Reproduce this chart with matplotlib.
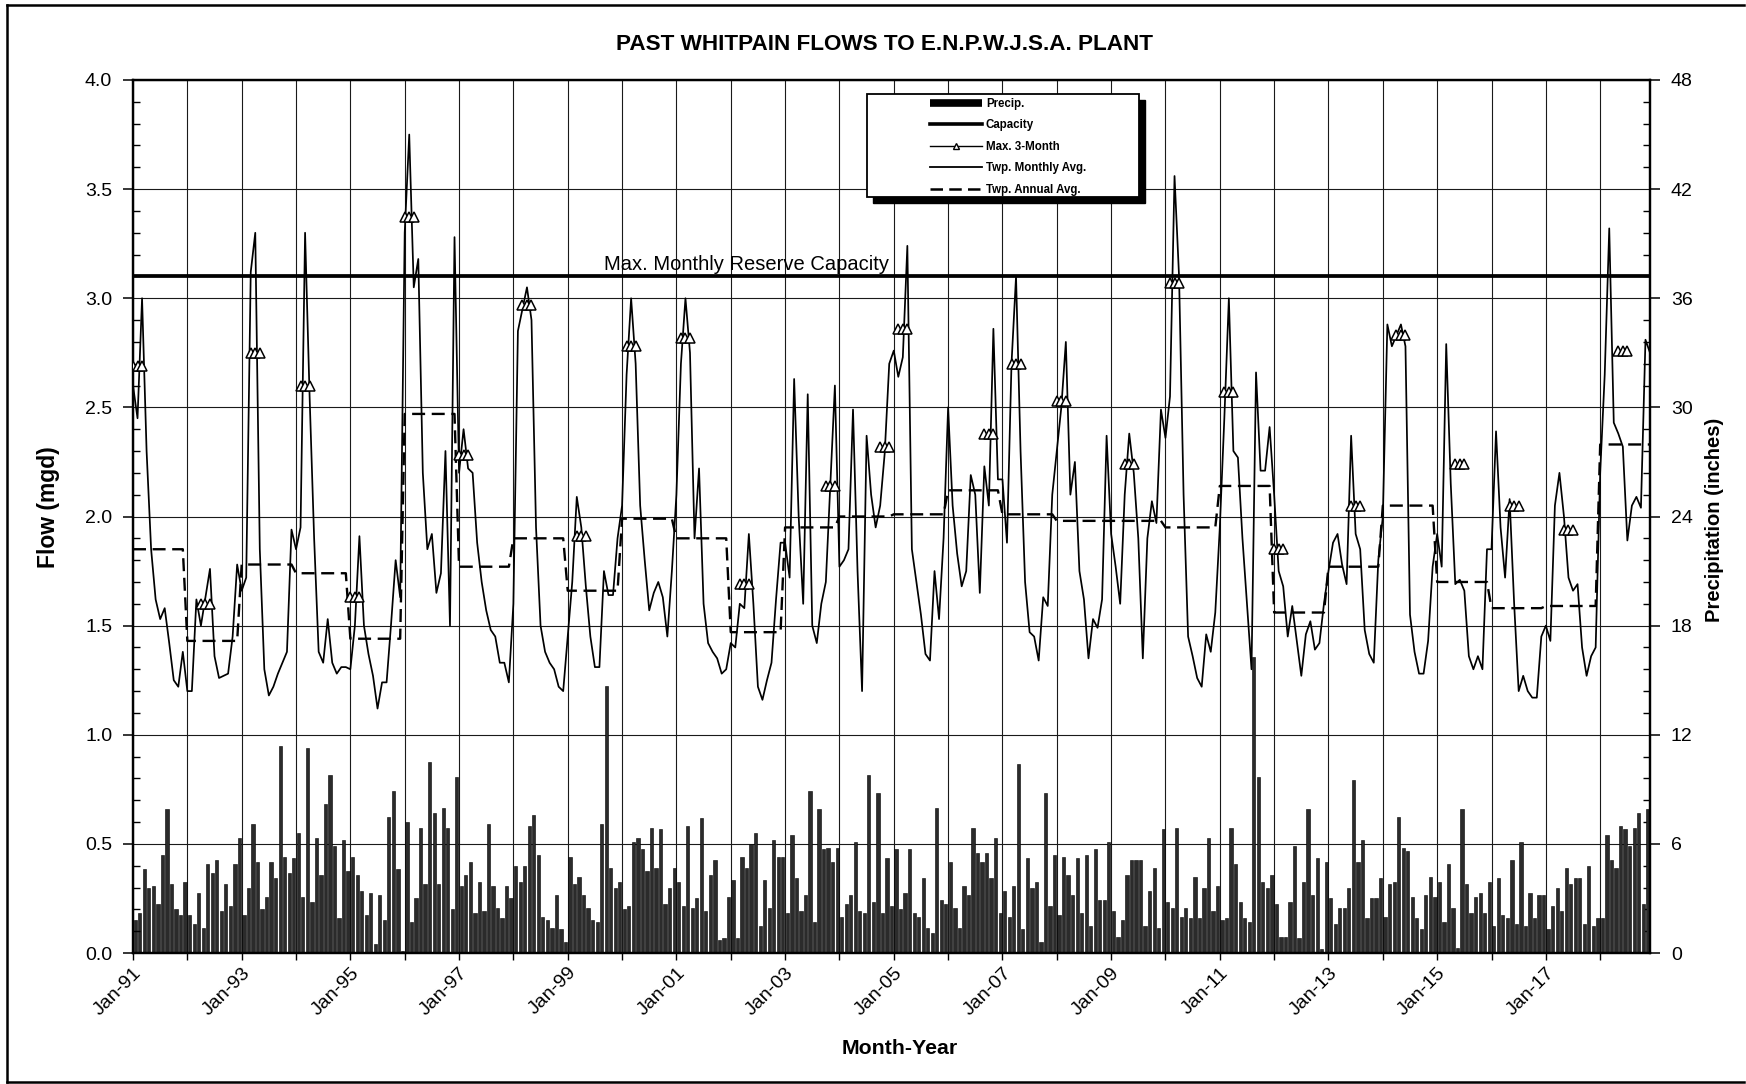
import numpy as np
import matplotlib
matplotlib.use("Agg")
import matplotlib.pyplot as plt
from matplotlib.lines import Line2D
from matplotlib.patches import Rectangle
from matplotlib.ticker import MultipleLocator, FixedLocator, FixedFormatter, FormatStrFormatter

plt.rcParams['font.family'] = ['Liberation Sans', 'DejaVu Sans']

# ---- data -------------------------------------------------------------
first_year = 1991
n_years = 28

# Township monthly average flow (mgd), Jan-1991 .. Dec-2018
monthly_flow = [
    2.60, 2.45, 3.00, 2.30, 1.85, 1.62, 1.53, 1.58, 1.42, 1.25, 1.22, 1.38,   # 1991
    1.20, 1.20, 1.62, 1.50, 1.63, 1.76, 1.36, 1.26, 1.27, 1.28, 1.45, 1.78,   # 1992
    1.66, 1.72, 3.12, 3.30, 1.85, 1.30, 1.18, 1.22, 1.28, 1.33, 1.38, 1.94,   # 1993
    1.85, 1.95, 3.30, 2.55, 1.90, 1.38, 1.33, 1.53, 1.33, 1.28, 1.31, 1.31,   # 1994
    1.30, 1.50, 1.91, 1.50, 1.37, 1.27, 1.12, 1.24, 1.24, 1.51, 1.80, 1.63,   # 1995
    3.30, 3.75, 3.05, 3.18, 2.20, 1.85, 1.92, 1.65, 1.74, 2.30, 1.50, 3.28,   # 1996
    2.20, 2.40, 2.22, 2.20, 1.88, 1.70, 1.57, 1.48, 1.45, 1.33, 1.33, 1.24,   # 1997
    1.60, 2.85, 2.95, 3.05, 2.90, 1.95, 1.50, 1.38, 1.33, 1.30, 1.22, 1.20,   # 1998
    1.45, 1.70, 2.09, 1.95, 1.68, 1.45, 1.31, 1.31, 1.75, 1.64, 1.64, 1.90,   # 1999
    2.05, 2.65, 3.00, 2.70, 2.05, 1.80, 1.57, 1.65, 1.70, 1.63, 1.45, 1.75,   # 2000
    2.10, 2.70, 3.00, 2.75, 1.90, 2.22, 1.60, 1.42, 1.38, 1.35, 1.28, 1.30,   # 2001
    1.42, 1.40, 1.60, 1.58, 1.92, 1.60, 1.22, 1.16, 1.25, 1.33, 1.62, 1.88,   # 2002
    1.88, 1.72, 2.63, 2.00, 1.60, 2.56, 1.50, 1.42, 1.60, 1.70, 2.15, 2.60,   # 2003
    1.77, 1.80, 1.85, 2.49, 1.75, 1.20, 2.37, 2.10, 1.95, 2.05, 2.29, 2.70,   # 2004
    2.76, 2.64, 2.73, 3.24, 1.85, 1.70, 1.55, 1.37, 1.34, 1.75, 1.53, 1.90,   # 2005
    2.50, 2.05, 1.83, 1.68, 1.75, 2.19, 2.10, 1.65, 2.23, 2.05, 2.86, 2.17,   # 2006
    2.17, 1.88, 2.70, 3.10, 2.30, 1.70, 1.47, 1.45, 1.34, 1.63, 1.59, 2.10,   # 2007
    2.30, 2.50, 2.80, 2.10, 2.25, 1.75, 1.62, 1.35, 1.53, 1.49, 1.62, 2.37,   # 2008
    1.92, 1.77, 1.60, 2.10, 2.38, 2.20, 1.90, 1.35, 1.90, 2.07, 1.97, 2.49,   # 2009
    2.36, 2.55, 3.56, 3.10, 2.10, 1.45, 1.36, 1.26, 1.22, 1.46, 1.38, 1.56,   # 2010
    1.95, 2.45, 3.00, 2.30, 2.27, 1.90, 1.60, 1.30, 2.66, 2.21, 2.21, 2.41,   # 2011
    2.10, 1.75, 1.68, 1.45, 1.59, 1.43, 1.27, 1.46, 1.52, 1.39, 1.42, 1.60,   # 2012
    1.75, 1.88, 1.92, 1.78, 1.69, 2.37, 1.92, 1.85, 1.48, 1.37, 1.33, 1.80,   # 2013
    2.00, 2.88, 2.78, 2.83, 2.88, 2.78, 1.55, 1.38, 1.28, 1.28, 1.43, 1.77,   # 2014
    1.92, 1.77, 2.79, 2.15, 1.69, 1.71, 1.66, 1.36, 1.30, 1.36, 1.30, 1.85,   # 2015
    1.85, 2.39, 1.95, 1.72, 2.08, 1.60, 1.20, 1.27, 1.20, 1.17, 1.17, 1.45,   # 2016
    1.50, 1.43, 2.05, 2.20, 2.00, 1.72, 1.66, 1.69, 1.40, 1.27, 1.36, 1.40,   # 2017
    2.20, 2.65, 3.32, 2.43, 2.38, 2.32, 1.89, 2.05, 2.09, 2.04, 2.81, 2.75,   # 2018
]

# Monthly precipitation (inches)
precip = [
    1.8, 2.2, 4.6, 3.6, 3.7, 2.7, 5.4, 7.9, 3.8, 2.4, 2.1, 3.9,
    2.1, 1.6, 3.3, 1.4, 4.9, 4.4, 5.1, 2.3, 3.8, 2.6, 4.9, 6.3,
    2.1, 3.6, 7.1, 5.0, 2.4, 3.1, 5.0, 4.1, 11.4, 5.3, 4.4, 5.2,
    6.6, 3.1, 11.25, 2.8, 6.3, 4.3, 8.2, 9.8, 5.9, 1.9, 6.2, 4.5,
    5.3, 4.3, 3.4, 2.1, 3.3, 0.5, 3.2, 1.8, 7.5, 8.9, 4.6, 0.1,
    7.2, 1.7, 3.0, 6.9, 3.8, 10.5, 7.7, 3.8, 8.0, 6.9, 2.4, 9.7,
    3.7, 4.3, 5.0, 2.2, 3.9, 2.3, 7.1, 3.7, 2.5, 1.9, 3.7, 3.0,
    4.8, 3.9, 4.8, 7.0, 7.6, 5.4, 2.0, 1.8, 1.4, 3.2, 1.3, 0.6,
    5.3, 3.8, 4.2, 3.2, 2.5, 1.8, 1.7, 7.1, 14.7, 4.7, 3.6, 3.9,
    2.4, 2.6, 6.1, 6.3, 5.7, 4.5, 6.9, 4.7, 6.8, 2.7, 3.6, 4.7,
    3.9, 2.6, 7.0, 2.5, 3.0, 7.4, 2.3, 4.3, 5.1, 0.7, 0.8, 3.1,
    4.0, 0.8, 5.3, 4.7, 6.0, 6.6, 1.5, 4.0, 2.5, 6.2, 5.3, 5.3,
    2.2, 6.5, 4.1, 2.3, 3.2, 8.9, 1.7, 7.9, 5.7, 5.8, 5.0, 5.8,
    2.0, 2.7, 3.2, 6.1, 2.3, 2.2, 9.8, 2.8, 8.8, 2.2, 5.2, 2.6,
    5.7, 2.4, 3.3, 5.7, 2.2, 2.0, 4.1, 1.4, 1.1, 8.0, 2.9, 2.7,
    5.0, 2.5, 1.4, 3.7, 3.2, 6.9, 5.5, 5.0, 5.5, 4.1, 6.3, 2.2,
    3.4, 2.0, 3.7, 10.4, 1.3, 5.2, 3.6, 3.9, 0.6, 8.8, 2.6, 5.4,
    2.1, 5.3, 4.3, 3.2, 5.2, 2.2, 5.4, 1.5, 5.7, 2.9, 2.9, 6.1,
    2.3, 0.9, 1.8, 4.3, 5.1, 5.1, 5.1, 1.5, 3.4, 4.7, 1.4, 6.8,
    2.8, 2.5, 6.9, 2.0, 2.5, 1.9, 4.2, 1.9, 3.6, 6.3, 2.3, 3.7,
    1.8, 1.9, 6.9, 4.9, 2.8, 1.9, 1.7, 16.3, 9.7, 3.9, 3.6, 4.3,
    2.7, 0.9, 0.9, 2.8, 5.9, 0.8, 3.9, 7.9, 3.2, 5.2, 0.2, 5.0,
    3.0, 1.6, 2.5, 2.5, 3.6, 9.5, 5.0, 6.2, 1.9, 3.0, 3.0, 4.1,
    2.0, 3.8, 3.9, 7.5, 5.8, 5.6, 3.1, 1.9, 1.3, 3.2, 4.2, 3.1,
    3.9, 1.7, 4.9, 2.5, 0.3, 7.9, 3.8, 2.2, 3.1, 3.3, 2.2, 3.9,
    1.5, 4.1, 2.1, 1.9, 5.1, 1.6, 6.1, 1.5, 3.3, 1.9, 3.2, 3.2,
    1.3, 2.6, 3.6, 2.3, 4.7, 3.8, 4.1, 4.1, 1.6, 4.8, 1.5, 1.9,
    1.9, 6.5, 5.1, 4.7, 7.0, 6.8, 5.9, 6.9, 7.7, 2.7, 7.9, 5.6,
]

# Township annual average flow (mgd), one value per year 1991..2018
annual_avg = [1.85, 1.43, 1.78, 1.74, 1.44, 2.47, 1.77, 1.90, 1.66, 1.99,
              1.90, 1.47, 1.95, 2.00, 2.01, 2.12, 2.01, 1.98, 1.98, 1.95,
              2.14, 1.56, 1.77, 2.05, 1.70, 1.58, 1.59, 2.33]

# Maximum 3-month average per year: first month index of the window and value
max3_start = [0, 15, 26, 37, 48, 60, 72, 86, 98, 109, 121, 134, 153, 165,
              169, 188, 194, 204, 219, 229, 241, 252, 269, 279, 292, 304, 316, 328]
max3_value = [2.69, 1.60, 2.75, 2.60, 1.63, 3.37, 2.28, 2.97, 1.91, 2.78,
              2.82, 1.69, 2.14, 2.32, 2.86, 2.38, 2.70, 2.53, 2.24, 3.07,
              2.57, 1.85, 2.05, 2.83, 2.24, 2.05, 1.94, 2.76]

capacity = 3.1   # max. monthly reserve capacity (mgd)

year_labels = [f"Jan-{(first_year + i) % 100:02d}" for i in range(n_years)]

# ---- figure -----------------------------------------------------------
W, H = 1746, 1084
fig = plt.figure(figsize=(W / 100, H / 100), dpi=100)

L, R, T, B = 133, 1650, 80, 953
ax = fig.add_axes([L / W, 1 - B / H, (R - L) / W, (B - T) / H])   # precipitation (right scale)
axf = ax.twinx()                                                    # flow (left scale)

ax.yaxis.tick_right()
ax.yaxis.set_label_position('right')
axf.yaxis.tick_left()
axf.yaxis.set_label_position('left')

months = np.arange(len(monthly_flow))
n_months = len(monthly_flow)

# precipitation bars
ax.bar(np.arange(len(precip)) + 0.5, precip, width=0.72, color='#2b2b2b',
       edgecolor='black', linewidth=0.4, zorder=2)
ax.set_ylim(0, 48)
ax.set_xlim(0, n_months - 1)

# grid (shared with the left scale: 6 in. == 0.5 mgd)
ax.set_axisbelow(True)
ax.grid(True, which='major', color='#1a1a1a', linewidth=0.8)

# flow lines
axf.plot(months, monthly_flow, color='black', linewidth=1.25, zorder=3)
annual_monthly = np.repeat(annual_avg, 12)[:n_months]
axf.plot(months, annual_monthly, color='black', linewidth=1.7,
         dashes=(5.5, 2.8), zorder=3)
axf.axhline(capacity, color='black', linewidth=2.7, zorder=3)
for s, v in zip(max3_start, max3_value):
    axf.plot([s, s + 1, s + 2], [v, v, v], color='black', linewidth=1.0,
             marker='^', markersize=7.5, markerfacecolor='white',
             markeredgecolor='black', markeredgewidth=1.1, zorder=4)
axf.set_ylim(0, 4.0)

axf.text(104, capacity + 0.012, "Max. Monthly Reserve Capacity",
         fontsize=14.5, ha='left', va='bottom', zorder=5)

# ticks
ax.xaxis.set_major_locator(FixedLocator(np.arange(0, n_months, 12)))
ax.xaxis.set_major_formatter(FixedFormatter(
    [lab if i % 2 == 0 else '' for i, lab in enumerate(year_labels)]))
ax.tick_params(axis='x', which='major', direction='out', length=5, width=1,
               labelsize=14, pad=3)
for lbl in ax.get_xticklabels():
    lbl.set_rotation(45)
    lbl.set_ha('right')
    lbl.set_rotation_mode('anchor')

ax.yaxis.set_major_locator(MultipleLocator(6))
ax.yaxis.set_minor_locator(MultipleLocator(1.2))
ax.tick_params(axis='y', which='major', direction='out', length=7, width=1.1,
               labelsize=14, pad=8)
ax.tick_params(axis='y', which='minor', direction='in', length=5, width=1)

axf.yaxis.set_major_locator(MultipleLocator(0.5))
axf.yaxis.set_minor_locator(MultipleLocator(0.1))
axf.yaxis.set_major_formatter(FormatStrFormatter('%.1f'))
axf.tick_params(axis='y', which='major', direction='out', length=7, width=1.1,
                labelsize=14, pad=8)
axf.tick_params(axis='y', which='minor', direction='in', length=5, width=1)

for a in (ax, axf):
    for sp in a.spines.values():
        sp.set_linewidth(1.6)
        sp.set_color('black')

# titles and axis labels
fig.text(884 / W, 1 - 45 / H, "PAST WHITPAIN FLOWS TO E.N.P.W.J.S.A. PLANT",
         fontsize=16.2, fontweight='bold', ha='center', va='center')
fig.text(900 / W, 1 - 1049 / H, "Month-Year", fontsize=15.3,
         fontweight='bold', ha='center', va='center')
fig.text(49 / W, 1 - 507 / H, "Flow (mgd)", fontsize=16.5, fontweight='bold',
         ha='center', va='center', rotation=90)
fig.text(1715 / W, 1 - 520 / H, "Precipitation (inches)", fontsize=14.5,
         fontweight='bold', ha='center', va='center', rotation=90)

# legend box with drop shadow
bx0, by0, bx1, by1 = 867, 94, 1139, 197
sh = 6
fig.patches.append(Rectangle(((bx0 + sh) / W, 1 - (by1 + sh) / H),
                             (bx1 - bx0) / W, (by1 - by0) / H,
                             transform=fig.transFigure, facecolor='black',
                             edgecolor='black', zorder=3))
fig.patches.append(Rectangle((bx0 / W, 1 - by1 / H), (bx1 - bx0) / W,
                             (by1 - by0) / H, transform=fig.transFigure,
                             facecolor='white', edgecolor='black',
                             linewidth=1.3, zorder=3.1))

handles = [
    Line2D([], [], color='black', linewidth=5.5, solid_capstyle='butt'),
    Line2D([], [], color='black', linewidth=2.6),
    Line2D([], [], color='black', linewidth=1.0, marker='^', markersize=5,
           markerfacecolor='white', markeredgecolor='black'),
    Line2D([], [], color='black', linewidth=1.3),
    Line2D([], [], color='black', linewidth=1.8, dashes=(5, 2.5)),
]
labels = ["Precip.", "Capacity", "Max. 3-Month", "Twp. Monthly Avg.",
          "Twp. Annual Avg."]
leg = fig.legend(handles, labels, loc='upper left',
                 bbox_to_anchor=(930 / W, 1 - 98 / H),
                 frameon=False, prop={'weight': 'bold', 'size': 8.3},
                 handlelength=4.5, handletextpad=0.35, labelspacing=0.82,
                 borderpad=0, borderaxespad=0, numpoints=1)
leg.set_zorder(5)

# outer border (left, top and bottom edges)
for xs, ys in (([7, 7], [5, 1082]), ([7, 1744], [5, 5]), ([7, 1744], [1082, 1082])):
    fig.lines.append(Line2D([x / W for x in xs], [1 - y / H for y in ys],
                            transform=fig.transFigure, color='black',
                            linewidth=1.8, zorder=6))

fig.savefig("out.png", dpi=100, facecolor='white')
